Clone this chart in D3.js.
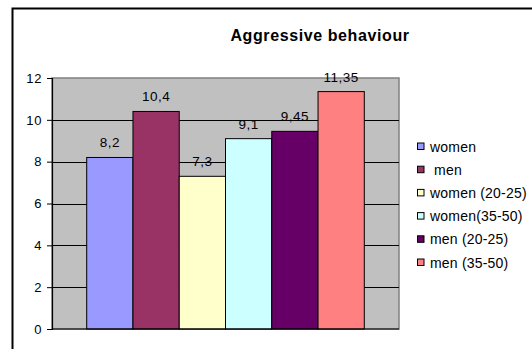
<!DOCTYPE html>
<html><head><meta charset="utf-8">
<script src="https://cdn.jsdelivr.net/npm/d3@7"></script>
<style>
html,body{margin:0;padding:0;background:#fff;}
svg{display:block;}
text{font-family:Arial,"Liberation Sans",sans-serif;white-space:pre;}
</style></head>
<body><svg id="c" width="532" height="349"></svg>
<script>
const title = "Aggressive behaviour";
const series = ["women", " men", "women (20-25)", "women(35-50)", "men (20-25)", "men (35-50)"];
const values = [8.2, 10.4, 7.3, 9.1, 9.45, 11.35];
const valueLabels = ["8,2", "10,4", "7,3", "9,1", "9,45", "11,35"];
const colors = ["#9999FF", "#993366", "#FFFFCC", "#CCFFFF", "#660066", "#FF8080"];
const yTicks = [0, 2, 4, 6, 8, 10, 12];

const svg = d3.select("#c");
const plot = {left: 52, right: 399, top: 78, bottom: 329};

// outer frame (extends beyond the visible region on right and bottom)
svg.append("rect").attr("x", 12.5).attr("y", 8.5).attr("width", 700).attr("height", 500)
  .attr("fill", "#fff").attr("stroke", "#000").attr("stroke-width", 2);

// plot background
svg.append("rect").attr("x", plot.left).attr("y", plot.top)
  .attr("width", plot.right - plot.left).attr("height", plot.bottom - plot.top)
  .attr("fill", "#C0C0C0").attr("stroke", "#808080").attr("stroke-width", 1.5);

const y = d3.scaleLinear().domain([0, 12]).range([plot.bottom, plot.top]);
const catW = plot.right - plot.left;
const groupW = catW / (1 + 1.5 / 6 * 1); // gap = 150% of bar width
const barW = (plot.right - plot.left) / (6 + 1.5);
const x = d3.scaleBand().domain(series)
  .range([plot.left + barW * 0.75, plot.right - barW * 0.75]).padding(0);

// gridlines
svg.append("g").selectAll("line").data(yTicks.slice(1, -1)).join("line")
  .attr("x1", plot.left).attr("x2", plot.right)
  .attr("y1", d => Math.round(y(d)) + 0.5).attr("y2", d => Math.round(y(d)) + 0.5)
  .attr("stroke", "#000").attr("stroke-width", 1);

// bars
svg.append("g").selectAll("rect").data(values).join("rect")
  .attr("x", (d, i) => x(series[i]))
  .attr("y", d => y(d))
  .attr("width", x.bandwidth())
  .attr("height", d => y(0) - y(d))
  .attr("fill", (d, i) => colors[i])
  .attr("stroke", "#000").attr("stroke-width", 1);

// value labels
svg.append("g").selectAll("text").data(values).join("text")
  .attr("x", (d, i) => x(series[i]) + x.bandwidth() / 2)
  .attr("y", d => y(d) - 10)
  .attr("text-anchor", "middle")
  .attr("font-size", "13.5px").attr("letter-spacing", "0.5px")
  .attr("fill", "#000")
  .text((d, i) => valueLabels[i]);

// y axis
const yAxis = d3.axisLeft(y).tickValues(yTicks).tickSize(5).tickPadding(5)
  .tickFormat(d3.format("d"));
const ga = svg.append("g").attr("transform", `translate(${plot.left},0)`).call(yAxis);
ga.select(".domain").attr("stroke", "#000").attr("stroke-width", 1.2);
ga.selectAll(".tick line").attr("stroke", "#000");
ga.selectAll(".tick text").attr("font-size", "13px").attr("letter-spacing", "0.6px")
  .attr("font-family", "Arial, 'Liberation Sans', sans-serif").attr("fill", "#000");

// x axis baseline
svg.append("line").attr("x1", plot.left).attr("x2", plot.right)
  .attr("y1", y(0)).attr("y2", y(0)).attr("stroke", "#000").attr("stroke-width", 1.2);

// title
svg.append("text").attr("x", 320).attr("y", 40.5).attr("text-anchor", "middle")
  .attr("font-size", "16px").attr("font-weight", "bold").attr("letter-spacing", "0.6px")
  .text(title);

// legend
const leg = svg.append("g");
const ly = d3.scaleLinear().domain([0, 5]).range([146.5, 262.5]);
const li = leg.selectAll("g").data(series).join("g")
  .attr("transform", (d, i) => `translate(417,${ly(i)})`);
li.append("rect").attr("x", 0.5).attr("y", -3.5).attr("width", 6.5).attr("height", 6.5)
  .attr("fill", (d, i) => colors[i]).attr("stroke", "#000").attr("stroke-width", 1);
li.append("text").attr("x", 13).attr("y", 5).attr("font-size", "14px")
  .attr("letter-spacing", "0.2px").text(d => d);
</script></body></html>
